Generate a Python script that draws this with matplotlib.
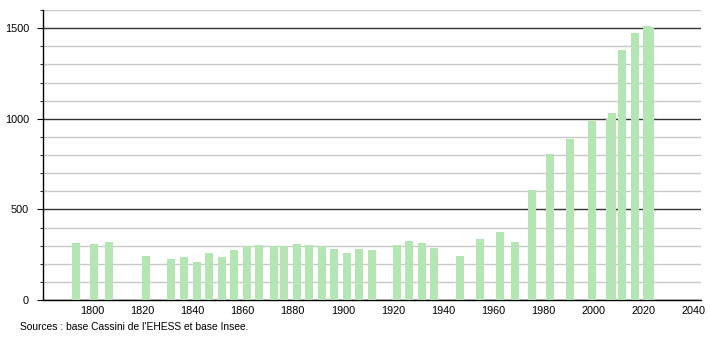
import matplotlib
matplotlib.use("Agg")
import matplotlib.pyplot as plt
from matplotlib.transforms import ScaledTranslation
from matplotlib.ticker import MultipleLocator

years = [1793, 1800, 1806, 1821, 1831, 1836, 1841, 1846, 1851, 1856, 1861, 1866,
         1872, 1876, 1881, 1886, 1891, 1896, 1901, 1906, 1911, 1921, 1926, 1931,
         1936, 1946, 1954, 1962, 1968, 1975, 1982, 1990, 1999, 2006, 2007, 2011,
         2016, 2021, 2022]
population = [316, 311, 322, 244, 228, 239, 211, 261, 239, 278, 300, 305,
              300, 300, 311, 305, 300, 283, 261, 283, 278, 305, 327, 316,
              289, 244, 338, 377, 322, 609, 808, 886, 985, 1000, 1030, 1378,
              1472, 1511, 1505]
x_ticks = list(range(1800, 2041, 20))
y_ticks = [0, 500, 1000, 1500]
source = "Sources : base Cassini de l'EHESS et base Insee."

plt.rcParams['font.family'] = ['Liberation Sans', 'DejaVu Sans']
plt.rcParams['font.size'] = 8

W, H = 710, 340
fig = plt.figure(figsize=(W / 100, H / 100), dpi=100)
ax = fig.add_axes([43 / W, 40 / H, (701 - 43) / W, (300 - 10) / H])

shift = ax.transData + ScaledTranslation(1.5 / 100, 0, fig.dpi_scale_trans)
ax.bar(years, population, width=3.2, color='#b3e6b3', transform=shift, zorder=3)

ax.set_xlim(1780.3, 2043)
ax.set_ylim(0, 1600)
ax.set_xticks(x_ticks)
ax.set_yticks(y_ticks)
ax.yaxis.set_minor_locator(MultipleLocator(100))

ax.grid(which='minor', axis='y', color='#c8c8c8', linewidth=1, zorder=0)
ax.grid(which='major', axis='y', color='#333333', linewidth=1, zorder=1)
ax.set_axisbelow(True)

for s in ['top', 'right']:
    ax.spines[s].set_visible(False)
for s in ['left', 'bottom']:
    ax.spines[s].set_color('black')
    ax.spines[s].set_linewidth(1)

ax.tick_params(axis='x', which='both', length=0, pad=4, colors='black', labelsize=7.8)
ax.tick_params(axis='y', which='major', length=4, pad=6, colors='black', labelsize=7.8)
ax.tick_params(axis='y', which='minor', length=2)

fig.text(20 / W, 1 - 327 / H, source, ha='left', va='center', fontsize=7.4)

fig.savefig("out.png", dpi=100)
